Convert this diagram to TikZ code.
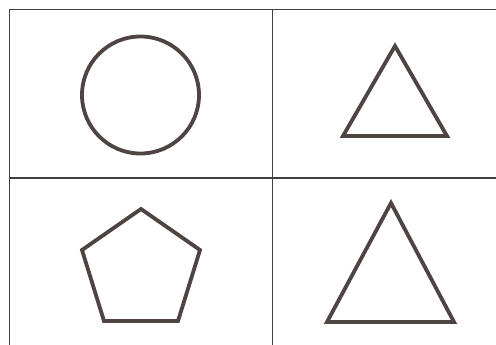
\documentclass[tikz,border=0pt]{standalone}
\begin{document}
\begin{tikzpicture}[x=1pt,y=-1pt,
  gridline/.style={draw=black!75, line width=1.3pt},
  shapeline/.style={draw={rgb,255:red,78;green,68;blue,66}, line width=3.8pt, line join=miter}]
\useasboundingbox (0,0) rectangle (496,345);
\fill[white] (0,0) rectangle (496,345);
% grid
\draw[gridline] (496,9.5) -- (9.5,9.5) -- (9.5,345);
\draw[gridline] (272.5,9.5) -- (272.5,345);
\draw[gridline] (9.5,178) -- (496,178);
% circle
\draw[shapeline] (140.5,95) circle[radius=58.5];
% top-right triangle
\draw[shapeline] (395,46) -- (343,136) -- (447,136) -- cycle;
% pentagon
\draw[shapeline] (141,209) -- (200,250) -- (178,321) -- (104,321) -- (82,250) -- cycle;
% bottom-right triangle
\draw[shapeline] (391,203) -- (327,322) -- (454,322) -- cycle;
\end{tikzpicture}
\end{document}
